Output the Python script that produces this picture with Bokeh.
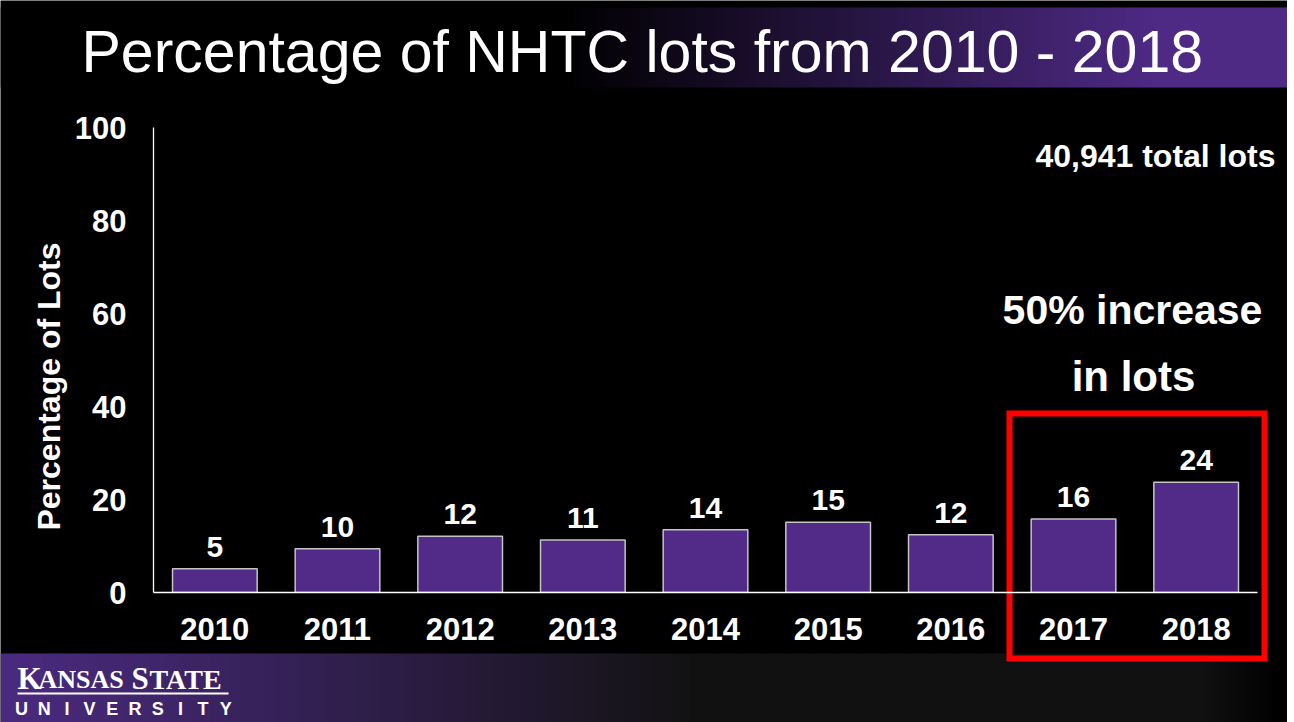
import math
from bokeh.plotting import figure
from bokeh.models import ColumnDataSource, FixedTicker, Range1d, FactorRange
from bokeh.embed import file_html
from bokeh.resources import INLINE
from bokeh.core.properties import value

# ---------------- data ----------------
years = ["2010", "2011", "2012", "2013", "2014", "2015", "2016", "2017", "2018"]
percent = [5.1, 9.4, 12.1, 11.3, 13.5, 15.1, 12.4, 15.8, 23.7]
value_labels = ["5", "10", "12", "11", "14", "15", "12", "16", "24"]
y_ticks = [0, 20, 40, 60, 80, 100]

TITLE = "Percentage of NHTC lots from 2010 - 2018"
Y_LABEL = "Percentage of Lots"
TOTAL_NOTE = "40,941 total lots"
INCREASE_NOTE = ["50% increase", "in lots"]
LOGO_TOP = ["K", "ANSAS", "S", "TATE"]
LOGO_BOTTOM = list("UNIVERSITY")

# ---------------- layout constants ----------------
W, H = 1287, 722
FRAME_L, FRAME_R, FRAME_T, FRAME_B = 153, 1257, 127, 592
FONT = "Liberation Sans"
PURPLE = "#522a87"
BASE_SHIFT = 0.37   # em correction for alphabetic baseline in the svg output


def hex_lerp(c1, c2, t):
    t = max(0.0, min(1.0, t))
    a = [int(c1[i:i + 2], 16) for i in (1, 3, 5)]
    b = [int(c2[i:i + 2], 16) for i in (1, 3, 5)]
    return "#%02x%02x%02x" % tuple(round(a[k] + (b[k] - a[k]) * t) for k in range(3))


# ================= background / decoration layer =================
D = figure(width=W, height=H, x_range=Range1d(0, W), y_range=Range1d(H, 0),
           output_backend="svg", toolbar_location=None, x_axis_type=None, y_axis_type=None,
           min_border=0, background_fill_color="black", border_fill_color="black",
           outline_line_color=None)
D.xgrid.visible = False
D.ygrid.visible = False

step = 3
# title band gradient (black -> purple)
tl, tr, tc = [], [], []
x = 0
while x < W:
    xc = x + step / 2
    tl.append(x)
    tr.append(min(x + step + 0.6, W))
    tc.append(hex_lerp("#000000", "#4e2a85", (xc - 560) / (1160 - 560)))
    x += step
D.quad(left=tl, right=tr, top=[7] * len(tl), bottom=[87] * len(tl), fill_color=tc, line_color=None)

# bottom band gradient (purple -> dark)
bl, br, bc = [], [], []
x = 0
while x < W:
    xc = x + step / 2
    if xc < 690:
        col = hex_lerp("#4a2a7f", "#121212", (xc / 690) ** 1.1)
    elif xc < 1200:
        col = "#111111"
    else:
        col = hex_lerp("#111111", "#000000", (xc - 1200) / 80)
    bl.append(x)
    br.append(min(x + step + 0.6, W))
    bc.append(col)
    x += step
D.quad(left=bl, right=br, top=[653] * len(bl), bottom=[H] * len(bl), fill_color=bc, line_color=None)


def dtext(txt, x, y, size, style="bold", align="left", baseline="alphabetic", font=FONT, angle=0.0):
    if baseline == "alphabetic":
        y = y - BASE_SHIFT * float(size.rstrip("px"))
    D.text(x=[x], y=[y], text=[txt], text_font=value(font), text_font_size=size,
           text_font_style=style, text_align=align, text_baseline=baseline,
           text_color="white", angle=angle)


dtext(TITLE, 81, 73, "59px", style="normal")
dtext(Y_LABEL, 48, 386, "32px", align="center", baseline="middle", angle=math.pi / 2)
dtext(TOTAL_NOTE, 1275, 167, "32px", align="right")
dtext(INCREASE_NOTE[0], 1132, 325, "41px", align="center")
dtext(INCREASE_NOTE[1], 1133, 392, "42px", align="center")

# red highlight box
D.quad(left=[1009], right=[1264], top=[413], bottom=[658], fill_color=None,
       line_color="#ff0000", line_width=6, line_join="miter")

# logo
logo_x = [17, 38, 131, 149]
logo_size = ["31px", "26px", "31px", "28px"]
for txt, lx, sz in zip(LOGO_TOP, logo_x, logo_size):
    dtext(txt, lx, 689, sz, font="Liberation Serif")
D.quad(left=[17], right=[228], top=[692], bottom=[694], fill_color="white", line_color=None)
for i, ch in enumerate(LOGO_BOTTOM):
    dtext(ch, 21 + 22.7 * i, 715, "18px", align="center")

# ================= chart layer =================
C = figure(width=W, height=H, x_range=FactorRange(*years), y_range=Range1d(0, 100),
           output_backend="svg", toolbar_location=None,
           min_border_left=FRAME_L, min_border_right=W - FRAME_R,
           min_border_top=FRAME_T, min_border_bottom=H - FRAME_B,
           background_fill_alpha=0, border_fill_alpha=0, outline_line_color=None)
C.xgrid.visible = False
C.ygrid.visible = False
C.styles = {"position": "absolute", "left": "0px", "top": "0px"}

px_per_unit = (FRAME_B - FRAME_T) / 100.0
label_y = [v + (11 + BASE_SHIFT * 30) / px_per_unit for v in percent]
src = ColumnDataSource(dict(year=years, pct=percent, lab=value_labels, ly=label_y))
C.vbar(x="year", top="pct", width=0.69, source=src, fill_color=PURPLE,
       line_color="#c4c4c4", line_width=1.5)
C.text(x="year", y="ly", text="lab", source=src, text_align="center",
       text_baseline="alphabetic", text_color="white", text_font=value(FONT),
       text_font_style="bold", text_font_size="30px")

for ax in (C.xaxis[0], C.yaxis[0]):
    ax.axis_line_color = "white"
    ax.axis_line_width = 1.3
    ax.major_tick_line_color = None
    ax.minor_tick_line_color = None
    ax.major_tick_out = 0
    ax.major_tick_in = 0
    ax.major_label_text_color = "white"
    ax.major_label_text_font = FONT
    ax.major_label_text_font_style = "bold"
C.xaxis.major_label_text_font_size = "31px"
C.xaxis.major_label_standoff = 25
C.yaxis.major_label_text_font_size = "31px"
C.yaxis.major_label_standoff = 27
C.yaxis.ticker = FixedTicker(ticks=y_ticks)

open("out.html", "w").write(file_html([D, C], INLINE))
